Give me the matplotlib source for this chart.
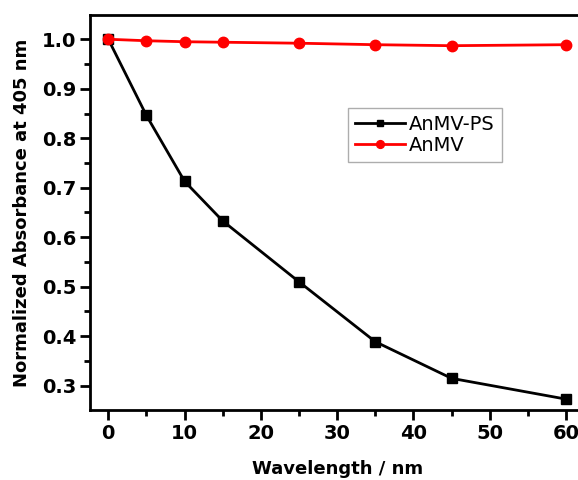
import matplotlib
matplotlib.use("Agg")
import matplotlib.pyplot as plt
from matplotlib.ticker import MultipleLocator

x_vals = [0, 5, 10, 15, 25, 35, 45, 60]
anmv_ps = [1.0, 0.846, 0.713, 0.633, 0.510, 0.389, 0.315, 0.273]
anmv = [1.0, 0.997, 0.995, 0.994, 0.992, 0.989, 0.987, 0.989]
series_names = ["AnMV-PS", "AnMV"]

fig = plt.figure(figsize=(5.78, 4.8), dpi=100)
ax = fig.add_axes([90/578, 70/480, 495/578, 395/480])

ax.plot(x_vals, anmv_ps, color="black", lw=2, marker="s", ms=6.5, label=series_names[0])
ax.plot(x_vals, anmv, color="#ff0000", lw=2, marker="o", ms=7.5, label=series_names[1])

ax.set_xlim(-2.4, 62.5)
ax.set_ylim(0.251, 1.049)
ax.xaxis.set_major_locator(MultipleLocator(10))
ax.xaxis.set_minor_locator(MultipleLocator(5))
ax.yaxis.set_major_locator(MultipleLocator(0.1))
ax.yaxis.set_minor_locator(MultipleLocator(0.05))
ax.yaxis.set_major_formatter(matplotlib.ticker.FormatStrFormatter("%.1f"))

for s in ax.spines.values():
    s.set_linewidth(2)
ax.spines["right"].set_visible(False)
ax.tick_params(which="major", direction="out", length=7, width=2, labelsize=14, pad=3)
ax.tick_params(which="minor", direction="out", length=4, width=2)
for lbl in ax.get_xticklabels() + ax.get_yticklabels():
    lbl.set_fontweight("bold")

ax.set_xlabel("Wavelength / nm", fontsize=13, fontweight="bold", labelpad=12)
ax.set_ylabel("Normalized Absorbance at 405 nm", fontsize=13, fontweight="bold", labelpad=8)

leg = ax.legend(loc="upper left", bbox_to_anchor=((348-90)/495, (410-108)/395),
                borderaxespad=0, fontsize=14, frameon=True, fancybox=False,
                edgecolor="#999999", handlelength=2.6, borderpad=0.35,
                labelspacing=0.1, handletextpad=0.2, markerscale=0.75)
leg.get_frame().set_linewidth(1)

fig.savefig("out.png", dpi=100)
